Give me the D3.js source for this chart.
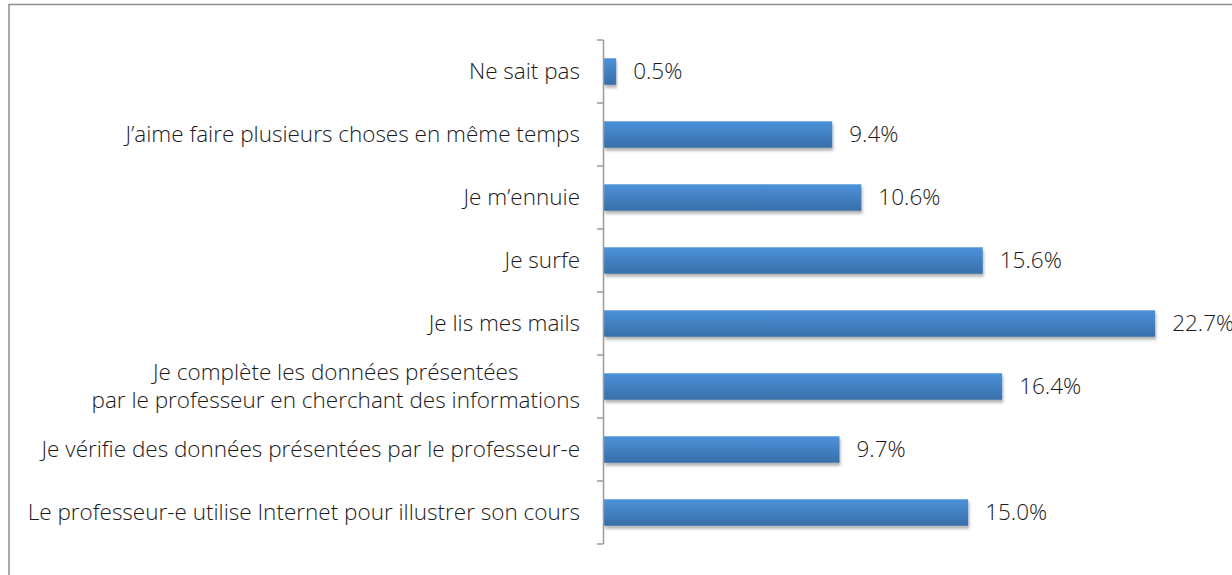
<!DOCTYPE html>
<html>
<head>
<meta charset="utf-8">
<script src="https://cdn.jsdelivr.net/npm/d3@7"></script>
<style>
  body { margin: 0; background: #fff; }
  svg { display: block; font-family: "Open Sans", "Liberation Sans", Arial, sans-serif; font-weight: 300; }
</style>
</head>
<body>
<div id="chart"></div>
<script>
// categories, top to bottom
let categories = [
  "Ne sait pas",
  "J’aime faire plusieurs choses en même temps",
  "Je m’ennuie",
  "Je surfe",
  "Je lis mes mails",
  "Je complète les données présentées\npar le professeur en cherchant des informations",
  "Je vérifie des données présentées par le professeur-e",
  "Le professeur-e utilise Internet pour illustrer son cours"
];
let values = [0.5, 9.4, 10.6, 15.6, 22.7, 16.4, 9.7, 15.0];

let width = 1232, height = 575;
let margin = { top: 40, bottom: 31, left: 604, right: 21 };
let fontSize = 22.5;

const svg = d3.select("#chart").append("svg")
  .attr("width", width)
  .attr("height", height);

// gradient + shadow for bars
let defs = svg.append("defs");
let grad = defs.append("linearGradient")
  .attr("id", "barGrad")
  .attr("x1", 0).attr("y1", 0).attr("x2", 0).attr("y2", 1);
grad.append("stop").attr("offset", "0%").attr("stop-color", "#4c92da");
grad.append("stop").attr("offset", "100%").attr("stop-color", "#386ea9");

let filter = defs.append("filter").attr("id", "shadow")
  .attr("x", "-5%").attr("y", "-20%").attr("width", "115%").attr("height", "160%");
filter.append("feDropShadow")
  .attr("dx", 1).attr("dy", 3).attr("stdDeviation", 1.6)
  .attr("flood-color", "#000").attr("flood-opacity", 0.3);

// outer frame (cropped on right and bottom)
svg.append("path")
  .attr("d", `M9,${height} V4.5 H${width}`)
  .attr("fill", "none")
  .attr("stroke", "#8e8e8e")
  .attr("stroke-width", 1.5);

let x = d3.scaleLinear().domain([0, 25]).range([margin.left, width - margin.right]);
let y = d3.scaleBand()
  .domain(d3.range(categories.length))
  .range([margin.top, height - margin.bottom])
  .paddingInner(0.58)
  .paddingOuter(0.29);

// bars
svg.append("g")
  .selectAll("rect")
  .data(values)
  .join("rect")
  .attr("x", x(0))
  .attr("y", (d, i) => y(i))
  .attr("width", d => x(d) - x(0))
  .attr("height", y.bandwidth())
  .attr("fill", "url(#barGrad)")
  .attr("filter", "url(#shadow)");

// value labels
svg.append("g")
  .selectAll("text")
  .data(values)
  .join("text")
  .attr("x", d => x(d) + 17)
  .attr("y", (d, i) => y(i) + y.bandwidth() / 2)
  .attr("dy", "0.35em")
  .attr("font-size", fontSize)
  .attr("fill", "#1a1a1a")
  .text(d => d.toFixed(1) + "%");

// category axis: ticks between bands
let bounds = d3.range(categories.length + 1).map(i => margin.top + i * (height - margin.bottom - margin.top) / categories.length);
let axisG = svg.append("g").attr("stroke", "#9a9a9a").attr("stroke-width", 1.5);
axisG.append("line")
  .attr("x1", x(0) - 0.5).attr("x2", x(0) - 0.5)
  .attr("y1", bounds[0]).attr("y2", bounds[bounds.length - 1]);
axisG.selectAll(".tick")
  .data(bounds)
  .join("line")
  .attr("class", "tick")
  .attr("x1", x(0) - 7).attr("x2", x(0) - 0.5)
  .attr("y1", d => d).attr("y2", d => d);

// category labels (multi-line centred, block right-aligned)
let labelRight = x(0) - 24;
let catG = svg.append("g").attr("font-size", fontSize).attr("fill", "#1a1a1a");
categories.forEach((c, i) => {
  let lines = c.split("\n");
  let cy = y(i) + y.bandwidth() / 2;
  let t = catG.append("text").attr("text-anchor", "end");
  lines.forEach((ln, j) => {
    t.append("tspan")
      .attr("x", labelRight)
      .attr("y", cy + (j - (lines.length - 1) / 2) * 28)
      .attr("dy", "0.35em")
      .text(ln);
  });
  if (lines.length > 1) {
    let spans = t.selectAll("tspan").nodes();
    let maxW = d3.max(spans, s => s.getComputedTextLength());
    t.attr("text-anchor", "middle");
    spans.forEach(s => d3.select(s).attr("x", labelRight - maxW / 2));
  }
});
</script>
</body>
</html>
